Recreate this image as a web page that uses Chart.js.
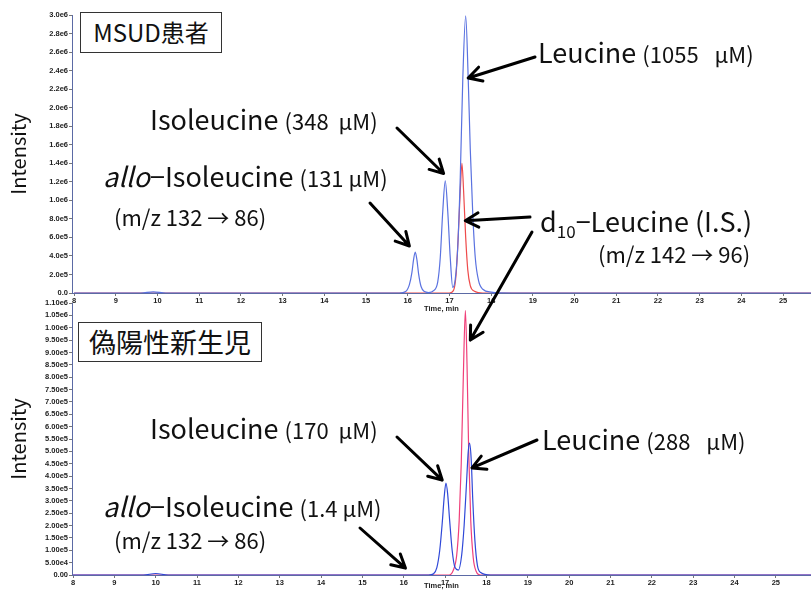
<!DOCTYPE html>
<html>
<head>
<meta charset="utf-8">
<script src="https://cdn.jsdelivr.net/npm/chart.js@4.4.0/dist/chart.umd.min.js"></script>
<style>
body{margin:0;background:#fff;width:811px;height:590px;overflow:hidden;position:relative;font-family:"Noto Sans CJK JP",sans-serif}
.pane{position:absolute;left:0;width:811px}
#ov{position:absolute;left:0;top:0;z-index:5;pointer-events:none}
.t{position:absolute;white-space:pre;line-height:1;color:#111;z-index:6}
.box{position:absolute;border:1.5px solid #333;background:#fff;z-index:4;box-sizing:border-box}
sub{font-size:17px;vertical-align:-6px;line-height:0}
</style>
</head>
<body>
<div class="pane" style="top:0;height:313px"><canvas id="cTop" width="811" height="313"></canvas></div>
<div class="pane" style="top:290px;height:300px"><canvas id="cBot" width="811" height="300"></canvas></div>
<canvas id="ov" width="811" height="590"></canvas>

<script>
// MSUD患者  (blue: m/z 132->86, red: d10-Leu m/z 142->96)
var topTime = [8.0, 9.6, 9.9, 10.2, 10.6, 15.8, 15.95, 16.04, 16.1, 16.14, 16.18, 16.22, 16.26, 16.32, 16.4, 16.5, 16.62, 16.72, 16.78, 16.84, 16.9, 16.96, 17.02, 17.08, 17.14, 17.2, 17.26, 17.32, 17.39, 17.45, 17.5, 17.56, 17.62, 17.7, 17.8, 18.0, 18.5, 25.7]
var topBlue = [0, 0, 12000, 0, 0, 0, 15000, 90000, 220000, 360000, 442000, 360000, 210000, 70000, 15000, 5000, 25000, 120000, 380000, 880000, 1210000, 880000, 380000, 60000, 150000, 500000, 1250000, 2300000, 2990000, 2320000, 1550000, 850000, 380000, 130000, 40000, 10000, 0, 0]
var topRedTime = [8.0, 17.0, 17.1, 17.16, 17.21, 17.26, 17.3, 17.34, 17.39, 17.44, 17.5, 17.6, 17.8, 25.7]
var topRed = [0, 0, 30000, 200000, 600000, 1100000, 1400000, 1100000, 600000, 250000, 80000, 20000, 0, 0]

// 偽陽性新生児
var botTime = [8.0, 9.7, 10.0, 10.3, 16.6, 16.72, 16.8, 16.87, 16.93, 16.98, 17.02, 17.06, 17.11, 17.17, 17.24, 17.32, 17.4, 17.46, 17.52, 17.56, 17.59, 17.63, 17.67, 17.72, 17.78, 17.86, 18.1, 25.9]
var botBlue = [0, 0, 6000, 0, 0, 5000, 30000, 100000, 210000, 320000, 372000, 330000, 220000, 100000, 30000, 20000, 80000, 200000, 380000, 500000, 533000, 470000, 300000, 140000, 40000, 10000, 0, 0]
var botRedTime = [8.0, 17.1, 17.2, 17.28, 17.34, 17.39, 17.44, 17.49, 17.53, 17.57, 17.62, 17.68, 17.75, 17.85, 25.9]
var botRed = [0, 0, 20000, 80000, 220000, 450000, 800000, 1070000, 850000, 500000, 220000, 70000, 15000, 0, 0]

var xTicks = [8, 9, 10, 11, 12, 13, 14, 15, 16, 17, 18, 19, 20, 21, 22, 23, 24, 25]
var topXRange = [7.95, 25.67], botXRange = [7.975, 25.85]
var topYMax = 3000000, topStep = 200000
var botYMax = 1100000, botStep = 50000

function pts(xs, ys){ return xs.map(function(x,i){ return {x:x, y:ys[i]} }) }

function fmt(v, d){
  if (v === 0) return d == 1 ? '0.0' : '0.00'
  return v.toExponential(d).replace('+','')
}

var tickFont = {family:'Liberation Sans', size:7.5, weight:'bold'}

function makeChart(id, padTop, xh, xr, ymax, step, digits, sets){
  return new Chart(document.getElementById(id), {
    type:'line',
    data:{datasets:sets},
    options:{
      responsive:false, animation:false, events:[],
      layout:{padding:{top:padTop, left:0, right:0, bottom:0}},
      plugins:{legend:{display:false}, tooltip:{enabled:false}},
      elements:{point:{radius:0}, line:{borderWidth:1.2, cubicInterpolationMode:'monotone'}},
      scales:{
        x:{
          type:'linear', min:xr[0], max:xr[1],
          afterFit:function(s){ s.height = xh },
          afterBuildTicks:function(s){ s.ticks = xTicks.map(function(v){ return {value:v} }) },
          ticks:{font:tickFont, color:'#222', padding:0, maxRotation:0, autoSkip:false},
          grid:{drawOnChartArea:false, tickLength:3, color:'#777'},
          border:{color:'#5b6aa5', width:1},
          title:{display:true, text:'Time, min', font:{family:'Liberation Sans', size:7.5, weight:'bold'}, color:'#222', padding:0}
        },
        y:{
          min:0, max:ymax,
          afterFit:function(s){ s.width = 72 },
          ticks:{stepSize:step, callback:function(v){ return fmt(v, digits) }, font:tickFont, color:'#222', padding:1, autoSkip:false},
          grid:{drawOnChartArea:false, tickLength:3, color:'#777'},
          border:{color:'#5b6aa5', width:1},
          title:{display:true, text:'Intensity', font:{family:'Noto Sans CJK JP', size:20}, color:'#111', padding:{top:6, bottom:0}}
        }
      }
    }
  })
}

var cTop = makeChart('cTop', 15, 20, topXRange, topYMax, topStep, 1, [
  {data:pts(topTime, topBlue), borderColor:'#5a72e0'},
  {data:pts(topRedTime, topRed), borderColor:'#ee4b4b'}
])
var cBot = makeChart('cBot', 13, 15, botXRange, botYMax, botStep, 2, [
  {data:pts(botTime, botBlue), borderColor:'#2f48d8'},
  {data:pts(botRedTime, botRed), borderColor:'#f0407a'}
])

// arrows: tip on the peak (data units), tail next to the label
var arrows = [
  {c:cTop, off:0, t:17.45, v:2320000, tx:535, ty:57},
  {c:cTop, off:0, t:16.86, v:1290000, tx:397, ty:128},
  {c:cTop, off:0, t:16.04, v:507000, tx:370, ty:203},
  {c:cTop, off:0, t:17.38, v:780000, tx:530, ty:217},
  {c:cBot, off:290, t:17.61, v:950000, tx:532, ty:232},
  {c:cBot, off:290, t:16.93, v:384000, tx:397, ty:437},
  {c:cBot, off:290, t:17.65, v:433000, tx:537, ty:440},
  {c:cBot, off:290, t:16.04, v:28000, tx:360, ty:528}
]
var g = document.getElementById('ov').getContext('2d')
g.strokeStyle = '#000'
g.lineWidth = 3
g.lineCap = 'round'
g.lineJoin = 'round'
arrows.forEach(function(a){
  var x = a.c.scales.x.getPixelForValue(a.t)
  var y = a.c.scales.y.getPixelForValue(a.v) + a.off
  var ang = Math.atan2(y - a.ty, x - a.tx)
  g.beginPath()
  g.moveTo(a.tx, a.ty); g.lineTo(x, y)
  g.moveTo(x - 15*Math.cos(ang - 0.5), y - 15*Math.sin(ang - 0.5))
  g.lineTo(x, y)
  g.lineTo(x - 15*Math.cos(ang + 0.5), y - 15*Math.sin(ang + 0.5))
  g.stroke()
})

// labels (x = left, y = cap top)
var P = '<span style="font-size:22px">'
var notes = [
  {x:538, y:43, s:27, h:'Leucine ' + P + '(1055 \u2002μM)</span>'},
  {x:150, y:110, s:27, h:'Isoleucine ' + P + '(348  μM)</span>'},
  {x:103, y:167, s:27, h:'<i>allo</i>−Isoleucine ' + P + '(131 μM)</span>'},
  {x:114, y:209, s:22, h:'(m/z 132 → 86)'},
  {x:540, y:212, s:27, h:'d<sub>10</sub>−Leucine (I.S.)'},
  {x:598, y:246, s:22, h:'(m/z 142 → 96)'},
  {x:150, y:419, s:27, h:'Isoleucine ' + P + '(170  μM)</span>'},
  {x:542, y:430, s:27, h:'Leucine ' + P + '(288 \u2002μM)</span>'},
  {x:103, y:497, s:27, h:'<i>allo</i>−Isoleucine ' + P + '(1.4 μM)</span>'},
  {x:114, y:532, s:22, h:'(m/z 132 → 86)'}
]
notes.forEach(function(n){
  var d = document.createElement('div')
  d.className = 't'
  d.style.left = n.x + 'px'
  d.style.top = (n.y - 0.2*n.s) + 'px'
  d.style.fontSize = n.s + 'px'
  d.innerHTML = n.h
  document.body.appendChild(d)
})

var boxes = [
  {x:80, y:12, w:142, h:41, s:24, text:'MSUD患者'},
  {x:78, y:322, w:184, h:40, s:27, text:'偽陽性新生児'}
]
boxes.forEach(function(b){
  var d = document.createElement('div')
  d.className = 'box'
  d.style.cssText = 'left:'+b.x+'px;top:'+b.y+'px;width:'+b.w+'px;height:'+b.h+'px;font-size:'+b.s+'px;line-height:'+(b.h-3)+'px;text-align:center;color:#111'
  d.textContent = b.text
  document.body.appendChild(d)
})
</script>
</body>
</html>
